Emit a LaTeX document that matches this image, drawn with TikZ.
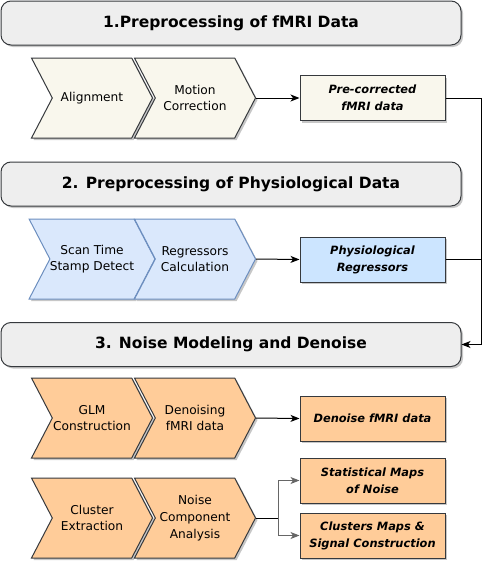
\documentclass[tikz,border=0pt]{standalone}
\usepackage{fontspec}
\setmainfont{DejaVu Sans}
\usetikzlibrary{positioning,shapes.symbols,shadows,arrows.meta}
\definecolor{lineColor}{HTML}{36393D}
\definecolor{titleFill}{HTML}{EEEEEE}
\definecolor{fmriFill}{HTML}{F9F7ED}
\definecolor{physioFill}{HTML}{DAE8FC}
\definecolor{physioLine}{HTML}{6C8EBF}
\definecolor{physioBoxFill}{HTML}{CCE5FF}
\definecolor{noiseFill}{HTML}{FFCC99}
\definecolor{branchColor}{HTML}{666666}
\tikzstyle{diagram} = [x = 1pt, y = -1pt]
\tikzstyle{softShadow} = [drop shadow={shadow xshift=2pt, shadow yshift=-2pt, fill=black, opacity=0.22}]
\tikzstyle{titleStyle} = [draw=lineColor, fill=titleFill, line width=1pt, rounded corners=10pt, minimum width=460, minimum height=44, font=\fontsize{15.5}{18}\selectfont\bfseries, softShadow]
\tikzstyle{stepStyle} = [shape=signal, signal from=west, signal to=east, signal pointer angle=125, draw=lineColor, line width=1pt, minimum width=121, minimum height=80, inner sep=0pt, align=center, font=\fontsize{12.2}{16.7}\selectfont, softShadow]
\tikzstyle{dataBox} = [draw=lineColor, line width=1pt, minimum width=145, minimum height=45, inner sep=0pt, align=center, font=\fontsize{11.4}{17}\selectfont\bfseries\itshape, softShadow]
\tikzstyle{connector} = [line width=1pt, -{Stealth[length=9pt, width=7pt, inset=2.5pt]}]
\tikzstyle{plainLine} = [line width=1pt]
\newcommand{\stepNode}[5]{\node [stepStyle, fill=#4, #5] (#1) at (#2) {#3};}

\begin{document}
\begin{tikzpicture}[diagram]
        \useasboundingbox (0,0) rectangle (501,570);

        % stage titles
        \node [titleStyle] (titleOne) at (231,23) {1.Preprocessing of fMRI Data};
        \node [titleStyle] (titleTwo) at (231,184) {2. Preprocessing of Physiological Data};
        \node [titleStyle] (titleThree) at (231,344.5) {3. Noise Modeling and Denoise};

        % step rows
        \stepNode{alignStep}{92,98}{Alignment}{fmriFill}{}
        \stepNode{motionStep}{195,98}{Motion\\Correction}{fmriFill}{}
        \node [dataBox, fill=fmriFill] (preBox) at (372.5,98) {Pre-corrected\\fMRI data};

        \stepNode{scanStep}{92,259}{Scan Time\\Stamp Detect}{physioFill}{draw=physioLine}
        \stepNode{regStep}{195,259}{Regressors\\Calculation}{physioFill}{draw=physioLine}
        \node [dataBox, fill=physioBoxFill] (physBox) at (372.5,259.5) {Physiological\\Regressors};

        \stepNode{glmStep}{92,418}{GLM\\Construction}{noiseFill}{}
        \stepNode{denoiseStep}{195,418}{Denoising\\fMRI data}{noiseFill}{}
        \node [dataBox, fill=noiseFill] (denoiseBox) at (372.5,418.5) {Denoise fMRI data};

        \stepNode{clusterStep}{92,518}{Cluster\\Extraction}{noiseFill}{}
        \stepNode{noiseStep}{195,518}{Noise\\Component\\Analysis}{noiseFill}{}
        \node [dataBox, fill=noiseFill] (statBox) at (372.5,480.5) {Statistical Maps\\of Noise};
        \node [dataBox, fill=noiseFill] (clustBox) at (372.5,535.5) {Clusters Maps \&\\Signal Construction};

        % connectors
        \coordinate (railEnd) at (481,344.5);
        \coordinate (split) at (278,518);
        \draw [connector] (motionStep.east) -- (preBox.west);
        \draw [connector] (regStep.east) -- (physBox.west);
        \draw [connector] (denoiseStep.east) -- (denoiseBox.west);
        \draw [connector] (preBox.east) -| (railEnd) -- (titleThree.east);
        \draw [plainLine] (physBox.east) -- (physBox.east -| railEnd);
        \draw [plainLine] (noiseStep.east) -- (split);
        \draw [connector, branchColor] (split) |- (statBox.west);
        \draw [connector, branchColor] (split) |- (clustBox.west);
      \end{tikzpicture}
\end{document}
